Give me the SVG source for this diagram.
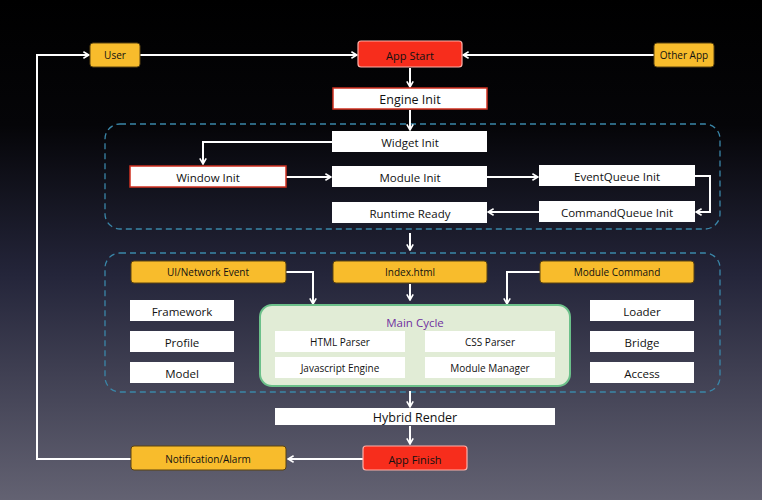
<svg xmlns="http://www.w3.org/2000/svg" width="762" height="500" viewBox="0 0 762 500">
<defs>
<linearGradient id="bg" x1="0" y1="0" x2="0" y2="1">
<stop offset="0" stop-color="#000000"/>
<stop offset="0.25" stop-color="#050508"/>
<stop offset="0.55" stop-color="#24253a"/>
<stop offset="1" stop-color="#636272"/>
</linearGradient>
<marker id="arr" viewBox="0 0 10 10" refX="9" refY="5" markerWidth="8" markerHeight="8" markerUnits="userSpaceOnUse" orient="auto">
<polyline points="2,1 9,5 2,9" fill="none" stroke="#ffffff" stroke-width="2"/>
</marker>
<style>
.t{font-family:"Open Sans","Liberation Sans",sans-serif;text-anchor:middle;dominant-baseline:central;fill:#111;}
.w{fill:#ffffff;}
.y{fill:#f8bc2c;stroke:#5a4310;stroke-width:1;}
.r{fill:#f72d1c;stroke:#ffb0a8;stroke-width:1.2;}
.rb{fill:#ffffff;stroke:#d03020;stroke-width:1.5;}
.dash{fill:none;stroke:#3a86a8;stroke-width:1.3;stroke-dasharray:6 4;}
.c{fill:none;stroke:#ffffff;stroke-width:2;marker-end:url(#arr);}
.l{fill:none;stroke:#ffffff;stroke-width:2;}
</style>
</defs>
<rect x="0" y="0" width="762" height="500" fill="url(#bg)"/>
<rect class="dash" x="105" y="124" width="615" height="105" rx="15"/>
<rect class="dash" x="105" y="253" width="615" height="139" rx="15"/>

<g id="connectors">
<line class="c" x1="140" y1="55" x2="357" y2="55"/>
<line class="c" x1="654" y1="55" x2="463" y2="55"/>
<line class="c" x1="410" y1="68" x2="410" y2="87"/>
<line class="c" x1="410" y1="110" x2="410" y2="130"/>
<polyline class="c" points="332,142 203,142 203,164"/>
<line class="c" x1="286" y1="177" x2="331" y2="177"/>
<line class="c" x1="487" y1="177" x2="538" y2="177"/>
<polyline class="c" points="695,176 710,176 710,212 696,212"/>
<line class="c" x1="539" y1="212" x2="488" y2="212"/>
<line class="c" x1="410" y1="233" x2="410" y2="250"/>
<polyline class="c" points="286,272 313,272 313,304"/>
<line class="c" x1="410" y1="284" x2="410" y2="300"/>
<polyline class="c" points="540,272 507,272 507,304"/>
<line class="c" x1="410" y1="391" x2="410" y2="407"/>
<line class="c" x1="410" y1="426" x2="410" y2="444"/>
<line class="c" x1="363" y1="459" x2="288" y2="459"/>
<polyline class="c" points="131,459 37,459 37,55 89,55"/>
</g>

<g id="user"><rect class="y" x="90" y="43" width="50" height="24" rx="3"/><text class="t" x="115" y="55" font-size="10">User</text></g>
<g id="appstart"><rect class="r" x="358" y="41" width="104" height="26" rx="3"/><text class="t" x="410" y="55" font-size="11">App Start</text></g>
<g id="otherapp"><rect class="y" x="654" y="43" width="60" height="24" rx="3"/><text class="t" x="684" y="55" font-size="10">Other App</text></g>
<g id="engineinit"><rect class="rb" x="333" y="88" width="154" height="21"/><text class="t" x="410" y="99" font-size="12.5">Engine Init</text></g>

<g id="widgetinit"><rect class="w" x="332" y="131" width="155" height="21"/><text class="t" x="410" y="142" font-size="11.5">Widget Init</text></g>
<g id="windowinit"><rect class="rb" x="130" y="166" width="156" height="21"/><text class="t" x="208" y="177" font-size="11.5">Window Init</text></g>
<g id="moduleinit"><rect class="w" x="332" y="166" width="155" height="21"/><text class="t" x="410" y="177" font-size="11.5">Module Init</text></g>
<g id="eventqueueinit"><rect class="w" x="539" y="165" width="156" height="21"/><text class="t" x="617" y="176" font-size="11.5">EventQueue Init</text></g>
<g id="commandqueueinit"><rect class="w" x="539" y="201" width="156" height="21"/><text class="t" x="617" y="212" font-size="11.5">CommandQueue Init</text></g>
<g id="runtimeready"><rect class="w" x="332" y="202" width="155" height="21"/><text class="t" x="410" y="213" font-size="11.5">Runtime Ready</text></g>

<g id="uinetworkevent"><rect class="y" x="131" y="261" width="155" height="22" rx="3"/><text class="t" x="208" y="272" font-size="10">UI/Network Event</text></g>
<g id="indexhtml"><rect class="y" x="333" y="261" width="154" height="22" rx="3"/><text class="t" x="410" y="272" font-size="10">Index.html</text></g>
<g id="modulecommand"><rect class="y" x="540" y="261" width="154" height="22" rx="3"/><text class="t" x="617" y="272" font-size="10">Module Command</text></g>

<g id="framework"><rect class="w" x="130" y="300" width="104" height="21"/><text class="t" x="182" y="311" font-size="11.5">Framework</text></g>
<g id="profile"><rect class="w" x="130" y="331" width="104" height="21"/><text class="t" x="182" y="342" font-size="11.5">Profile</text></g>
<g id="model"><rect class="w" x="130" y="362" width="104" height="21"/><text class="t" x="182" y="373" font-size="11.5">Model</text></g>
<g id="loader"><rect class="w" x="590" y="300" width="104" height="21"/><text class="t" x="642" y="311" font-size="11.5">Loader</text></g>
<g id="bridge"><rect class="w" x="590" y="331" width="104" height="21"/><text class="t" x="642" y="342" font-size="11.5">Bridge</text></g>
<g id="access"><rect class="w" x="590" y="362" width="104" height="21"/><text class="t" x="642" y="373" font-size="11.5">Access</text></g>

<g id="maincycle">
<rect x="260" y="305" width="310" height="81" rx="12" fill="#e1ecd6" stroke="#6cc08a" stroke-width="2"/>
<text class="t" x="415" y="322" font-size="11.5" style="fill:#7030a0">Main Cycle</text>
<rect class="w" x="275" y="331" width="130" height="21"/><text class="t" x="340" y="342" font-size="10">HTML Parser</text>
<rect class="w" x="425" y="331" width="130" height="21"/><text class="t" x="490" y="342" font-size="10">CSS Parser</text>
<rect class="w" x="275" y="357" width="130" height="21"/><text class="t" x="340" y="368" font-size="10">Javascript Engine</text>
<rect class="w" x="425" y="357" width="130" height="21"/><text class="t" x="490" y="368" font-size="10">Module Manager</text>
</g>

<g id="hybridrender"><rect class="w" x="275" y="408" width="280" height="17"/><text class="t" x="415" y="417" font-size="12.5">Hybrid Render</text></g>
<g id="appfinish"><rect class="r" x="363" y="446" width="104" height="24" rx="3"/><text class="t" x="415" y="459" font-size="11">App Finish</text></g>
<g id="notification"><rect class="y" x="131" y="446" width="155" height="24" rx="3"/><text class="t" x="208" y="459" font-size="10">Notification/Alarm</text></g>
</svg>
